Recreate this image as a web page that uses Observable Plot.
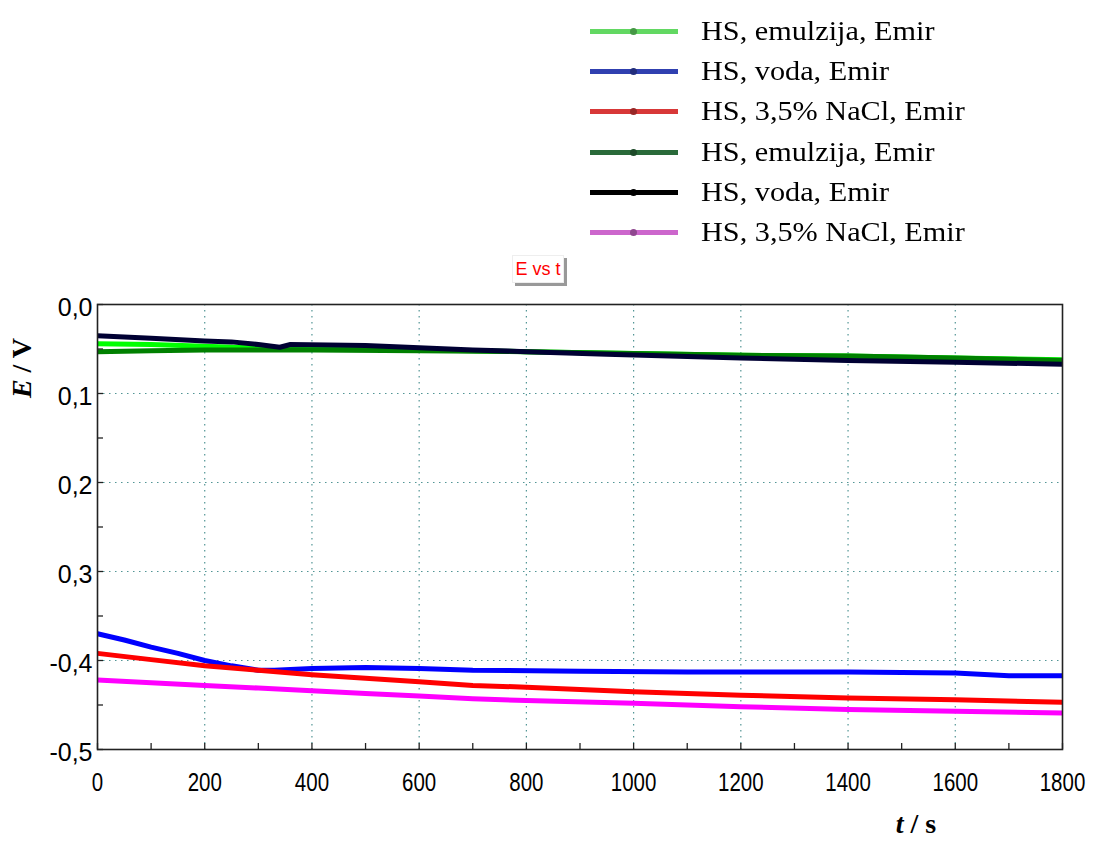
<!DOCTYPE html>
<html>
<head>
<meta charset="utf-8">
<script src="https://cdn.jsdelivr.net/npm/d3@7"></script>
<script src="https://cdn.jsdelivr.net/npm/@observablehq/plot@0.6"></script>
<style>
  html, body { margin: 0; padding: 0; background: #fff; }
  #wrap { position: relative; width: 1093px; height: 841px; overflow: hidden; }
  #legend { position: absolute; left: 0; top: 0; width: 1093px; height: 250px; }
  .lrow { position: absolute; left: 590px; height: 30px; }
  .lline { position: absolute; left: 0; top: 12px; width: 88px; height: 5px; }
  .ldot { position: absolute; left: 40px; top: 11px; width: 7px; height: 7px; border-radius: 50%; }
  .ltext { position: absolute; left: 111px; top: -3px; white-space: nowrap; font-family: "Liberation Serif", "Times New Roman", serif; font-size: 27px; color: #000; transform: scaleX(1.12); transform-origin: 0 50%; line-height: 34px; }
  #title { position: absolute; left: 512px; top: 255px; width: 50px; height: 26px; background: #fff; border: 1px solid #eee; box-shadow: 3px 3px 0 #999; font-family: "Liberation Sans", Arial, sans-serif; font-size: 18px; color: #f00; text-align: center; line-height: 26px; }
  #chart { position: absolute; left: 0; top: 290px; }
</style>
</head>
<body>
<div id="wrap">
  <div id="legend"></div>
  <div id="title">E vs t</div>
  <div id="chart"></div>
</div>
<script>
// ---------- data ----------
const seriesIds = ["em1", "voda1", "nacl1", "em2", "voda2", "nacl2"];
const seriesLabels = ["HS, emulzija, Emir", "HS, voda, Emir", "HS, 3,5% NaCl, Emir", "HS, emulzija, Emir", "HS, voda, Emir", "HS, 3,5% NaCl, Emir"];
const lineColors = ["#00ff00", "#0000ff", "#ff0000", "#008000", "#000033", "#ff00ff"];
const legendColors = ["#62d862", "#3040b0", "#d83838", "#2a6a3a", "#000000", "#cc66cc"];

const tEm1 = [0, 100, 200, 300, 400, 500, 700, 800, 1000, 1200, 1400, 1600, 1800];
const eEm1 = [-0.044, -0.045, -0.047, -0.049, -0.050, -0.050, -0.052, -0.053, -0.055, -0.057, -0.058, -0.060, -0.062];

const tVoda1 = [0, 50, 100, 150, 200, 250, 300, 330, 400, 500, 600, 700, 900, 1100, 1400, 1600, 1700, 1800];
const eVoda1 = [-0.370, -0.377, -0.385, -0.392, -0.400, -0.406, -0.411, -0.411, -0.409, -0.408, -0.409, -0.411, -0.412, -0.413, -0.413, -0.414, -0.417, -0.417];

const tNacl1 = [0, 100, 200, 300, 400, 500, 600, 700, 800, 1000, 1200, 1400, 1600, 1800];
const eNacl1 = [-0.392, -0.399, -0.406, -0.411, -0.416, -0.420, -0.424, -0.428, -0.430, -0.435, -0.439, -0.442, -0.444, -0.447];

const tEm2 = [0, 100, 200, 300, 400, 600, 800, 1000, 1200, 1400, 1600, 1800];
const eEm2 = [-0.053, -0.052, -0.051, -0.051, -0.051, -0.052, -0.053, -0.055, -0.057, -0.058, -0.060, -0.063];

const tVoda2 = [0, 100, 200, 250, 300, 340, 360, 500, 700, 800, 950, 1200, 1400, 1600, 1800];
const eVoda2 = [-0.035, -0.038, -0.041, -0.042, -0.045, -0.048, -0.045, -0.046, -0.051, -0.053, -0.056, -0.060, -0.063, -0.065, -0.067];

const tNacl2 = [0, 100, 200, 300, 400, 500, 600, 700, 800, 1000, 1200, 1400, 1600, 1800];
const eNacl2 = [-0.422, -0.425, -0.428, -0.431, -0.434, -0.437, -0.440, -0.443, -0.445, -0.448, -0.452, -0.455, -0.457, -0.459];

const xTickValues = [0, 200, 400, 600, 800, 1000, 1200, 1400, 1600, 1800];
const xMinorTicks = d3.range(0, 1801, 100);
const xGridValues = [200, 400, 600, 800, 1000, 1200, 1400, 1600];
const yTickValues = [0, -0.1, -0.2, -0.3, -0.4, -0.5];
const yTickLabels = ["0,0", "0,1", "0,2", "0,3", "-0,4", "-0,5"];
const yMinorTicks = [0, -0.05, -0.1, -0.15, -0.2, -0.25, -0.3, -0.35, -0.4, -0.45, -0.5];
const yGridValues = [-0.1, -0.2, -0.3, -0.4];

// ---------- table ----------
const tArrays = [tEm1, tVoda1, tNacl1, tEm2, tVoda2, tNacl2];
const eArrays = [eEm1, eVoda1, eNacl1, eEm2, eVoda2, eNacl2];
const rows = [];
seriesIds.forEach((id, k) => {
  tArrays[k].forEach((t, i) => rows.push({series: id, t, E: eArrays[k][i]}));
});

// ---------- legend ----------
const legendTops = [17, 57, 97, 138, 178, 218];
const legend = document.getElementById("legend");
seriesIds.forEach((id, k) => {
  const row = document.createElement("div");
  row.className = "lrow";
  row.style.top = legendTops[k] + "px";
  row.innerHTML = `<div class="lline" style="background:${legendColors[k]}"></div>` +
    `<div class="ldot" style="background:${legendColors[k]};filter:brightness(0.7)"></div>` +
    `<div class="ltext">${seriesLabels[k]}</div>`;
  legend.appendChild(row);
});

// ---------- chart ----------
const gridStyle = {stroke: "#3f8a8a", strokeOpacity: 0.9, strokeDasharray: "1.5,4.5", strokeWidth: 1.2};
const chart = Plot.plot({
  width: 1093,
  height: 551,
  marginTop: 14,
  marginBottom: 92,
  marginLeft: 97,
  marginRight: 31,
  x: {domain: [0, 1800], label: null},
  y: {domain: [-0.5, 0], label: null},
  color: {domain: seriesIds, range: lineColors},
  marks: [
    Plot.gridX(xGridValues, gridStyle),
    Plot.gridY(yGridValues, gridStyle),
    Plot.line(rows, {x: "t", y: "E", z: "series", stroke: "series", strokeWidth: 5, strokeLinejoin: "round", strokeLinecap: "butt"}),
    Plot.frame({stroke: "#222", strokeWidth: 1.6}),
    Plot.axisX(xMinorTicks, {tickSize: -6, text: null, stroke: "#222", strokeWidth: 1.3}),
    Plot.axisX(xTickValues, {tickSize: 0, tickPadding: 24, fontSize: 25, fontFamily: "'Liberation Sans', Arial, sans-serif", fill: "#000", tickFormat: d => String(d)}),
    Plot.axisY(yMinorTicks, {tickSize: -6, text: null, stroke: "#222", strokeWidth: 1.3}),
    Plot.axisY(yTickValues, {tickSize: 0, tickPadding: 5, dy: 3, fontSize: 25, fontFamily: "'Liberation Sans', Arial, sans-serif", fill: "#000", tickFormat: d => yTickLabels[yTickValues.indexOf(d)]})
  ]
});
document.getElementById("chart").appendChild(chart);

const svg = d3.select(chart);
// condense the x tick labels horizontally, like the reference (narrow digits)
const xLabelSet = new Set(xTickValues.map(String));
svg.selectAll("text").filter(function() {
  const g = this.closest("g[aria-label]");
  return g && /x-axis/.test(g.getAttribute("aria-label")) && xLabelSet.has(this.textContent.trim());
}).each(function() {
  const n = this.textContent.trim().length;
  this.setAttribute("textLength", (n * 11.4).toFixed(1));
  this.setAttribute("lengthAdjust", "spacingAndGlyphs");
});

// axis titles (text)
const yl = svg.append("text")
  .attr("transform", "translate(31,78) rotate(-90)")
  .attr("text-anchor", "middle")
  .style("font-family", "'Liberation Serif', 'Times New Roman', serif")
  .style("font-size", "28px")
  .style("font-weight", "bold");
yl.append("tspan").style("font-style", "italic").text("E");
yl.append("tspan").text(" / V");

const xl = svg.append("text")
  .attr("x", 916)
  .attr("y", 543)
  .attr("text-anchor", "middle")
  .style("font-family", "'Liberation Serif', 'Times New Roman', serif")
  .style("font-size", "28px")
  .style("font-weight", "bold");
xl.append("tspan").style("font-style", "italic").text("t");
xl.append("tspan").text(" / s");
</script>
</body>
</html>
